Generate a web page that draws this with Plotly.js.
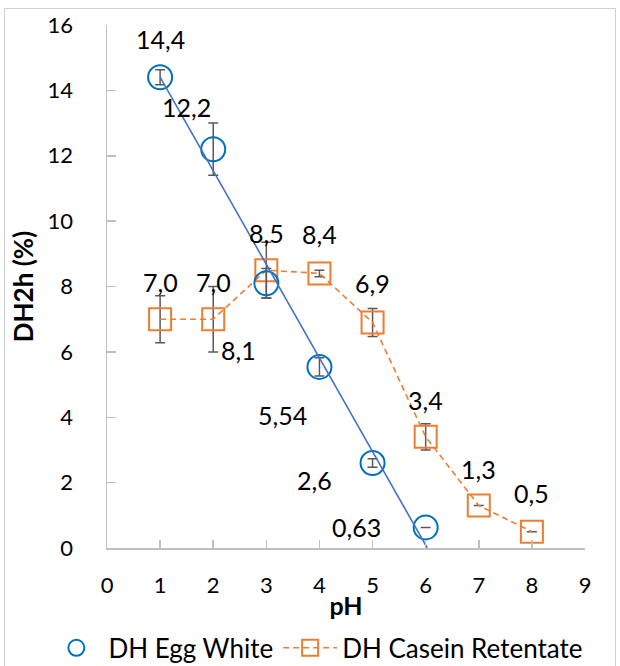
<!DOCTYPE html>
<html>
<head>
<meta charset="utf-8">
<script src="https://cdn.plot.ly/plotly-3.0.1.min.js"></script>
<style>
  html, body { margin: 0; padding: 0; background: #fff; }
  #wrap { position: relative; width: 620px; height: 666px; }
  #chart { position: absolute; left: 0; top: 0; width: 620px; height: 666px; }
  #frame { position: absolute; left: 4px; top: 8px; width: 610px; height: 700px; border: 1px solid #d0d0d0; pointer-events: none; }
</style>
</head>
<body>
<div id="wrap">
  <div id="chart"></div>
  <div id="frame"></div>
</div>
<script>
// ---- data ----
const phEgg = [1, 2, 3, 4, 5, 6];
const dhEgg = [14.4, 12.2, 8.1, 5.54, 2.6, 0.63];
const errEgg = [0.23, 0.8, 0.45, 0.28, 0.13, 0];
const lblEgg = ["14,4", "12,2", "8,1", "5,54", "2,6", "0,63"];

const phCasein = [1, 2, 3, 4, 5, 6, 7, 8];
const dhCasein = [7.0, 7.0, 8.5, 8.4, 6.9, 3.4, 1.3, 0.5];
const errCasein = [0.72, 1.0, 0.85, 0.1, 0.43, 0.4, 0, 0];
const lblCasein = ["7,0", "7,0", "8,5", "8,4", "6,9", "3,4", "1,3", "0,5"];

const seriesNames = ["DH Egg White", "DH Casein Retentate"];
const xTicks = [0, 1, 2, 3, 4, 5, 6, 7, 8, 9];
const yTicks = [0, 2, 4, 6, 8, 10, 12, 14, 16];

// ---- label offsets (styling, px: [xshift, yshift]) ----
const offEgg = [[0, 38], [-27, 42], [-28, -67], [-37, -48], [-58, -17], [-69, 0]];
const offCasein = [[0, 37], [0, 37], [0, 37], [0, 39], [0, 39], [0, 37], [0, 37], [0, 39]];

// ---- linear trendline for egg white (least squares) ----
const n = phEgg.length;
const mx = phEgg.reduce((a, b) => a + b, 0) / n;
const my = dhEgg.reduce((a, b) => a + b, 0) / n;
let sxy = 0, sxx = 0;
for (let i = 0; i < n; i++) { sxy += (phEgg[i] - mx) * (dhEgg[i] - my); sxx += (phEgg[i] - mx) ** 2; }
const slope = sxy / sxx;
const icpt = my - slope * mx;
const xStart = phEgg[0];
const xEnd = -icpt / slope;

const FONT = "Lato, 'Open Sans', sans-serif";

const traces = [
  {
    x: phCasein, y: dhCasein, name: seriesNames[1], type: "scatter", mode: "lines+markers",
    line: { color: "#ED7D31", width: 1.6, dash: "6px,4px" },
    marker: { symbol: "square-open", size: 22, color: "#ED7D31", line: { width: 2, color: "#ED7D31" } },
    error_y: { type: "data", array: errCasein, visible: true, color: "#595959", thickness: 1.5, width: 5 },
    cliponaxis: false
  },
  {
    x: phEgg, y: dhEgg, name: seriesNames[0], type: "scatter", mode: "markers",
    marker: { symbol: "circle-open", size: 24, color: "#0070C0", line: { width: 2, color: "#0070C0" } },
    error_y: { type: "data", array: errEgg, visible: true, color: "#595959", thickness: 1.5, width: 5 },
    cliponaxis: false
  },
  {
    x: [xStart, xEnd], y: [icpt + slope * xStart, icpt + slope * xEnd],
    type: "scatter", mode: "lines", showlegend: false, hoverinfo: "skip",
    line: { color: "#4472C4", width: 1.6 }
  }
];

const annotations = [];
lblEgg.forEach((t, i) => annotations.push({
  x: phEgg[i], y: dhEgg[i], xref: "x", yref: "y", text: t, showarrow: false,
  xshift: offEgg[i][0], yshift: offEgg[i][1], font: { family: FONT, size: 25, color: "#000" }
}));
lblCasein.forEach((t, i) => annotations.push({
  x: phCasein[i], y: dhCasein[i], xref: "x", yref: "y", text: t, showarrow: false,
  xshift: offCasein[i][0], yshift: offCasein[i][1], font: { family: FONT, size: 25, color: "#000" }
}));

const layout = {
  width: 620, height: 666,
  margin: { l: 107, r: 35, t: 25, b: 118, autoexpand: false },
  paper_bgcolor: "#fff", plot_bgcolor: "#fff",
  font: { family: FONT, size: 22, color: "#000" },
  showlegend: true,
  legend: {
    orientation: "h", xref: "paper", x: -0.131, xanchor: "left",
    y: -0.191, yanchor: "middle",
    font: { family: FONT, size: 26, color: "#000" }, itemwidth: 54, itemgap: 12,
    traceorder: "reversed"
  },
  xaxis: {
    range: [0, 9], tickvals: xTicks, ticktext: xTicks.map(String),
    showgrid: false, zeroline: false, showline: true, linecolor: "#bfbfbf", linewidth: 1.5,
    ticks: "inside", ticklen: 8, tickcolor: "#bfbfbf", tickwidth: 1.5,
    ticklabelstandoff: 17, tickfont: { family: FONT, size: 22, color: "#000" },
    title: { text: "<b>pH</b>", font: { family: FONT, size: 25, color: "#000" }, standoff: 0 },
    fixedrange: true
  },
  yaxis: {
    range: [0, 16], tickvals: yTicks, ticktext: yTicks.map(String),
    showgrid: false, zeroline: false, showline: true, linecolor: "#bfbfbf", linewidth: 1.5,
    ticks: "inside", ticklen: 9, tickcolor: "#bfbfbf", tickwidth: 1.5,
    ticklabelstandoff: 28, tickfont: { family: FONT, size: 22, color: "#000" },
    title: { text: "<b>DH2h (%)</b>", font: { family: FONT, size: 26, color: "#000" }, standoff: 6 },
    fixedrange: true
  },
  annotations: annotations
};

Plotly.newPlot("chart", traces, layout, { staticPlot: true, displayModeBar: false });
</script>
</body>
</html>
